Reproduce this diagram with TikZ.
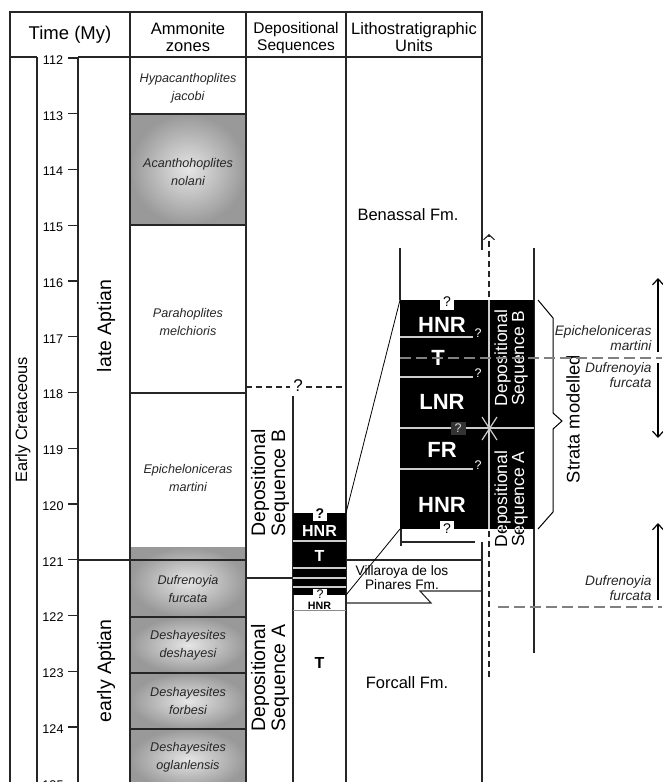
\documentclass[tikz,border=0pt]{standalone}
\usepackage{fontspec}
\setmainfont{Liberation Sans}
\usetikzlibrary{arrows.meta}

\begin{document}
\begin{tikzpicture}[x=1pt,y=-1pt]
	\tikzset{
		frame/.style={line width=1.1pt, draw=black!85},
		zonetxt/.style={font=\fontsize{12.6}{18}\selectfont\itshape, text=black!85, align=center},
		headtxt/.style={font=\fontsize{16.5}{17}\selectfont, align=center},
		unittxt/.style={font=\fontsize{16.5}{17}\selectfont, align=center},
		periodtxt/.style={font=\fontsize{19.5}{20}\selectfont, align=center, rotate=90},
		seqtxt/.style={font=\fontsize{17.5}{17}\selectfont, align=center, rotate=90},
		bigcode/.style={font=\fontsize{22}{22}\selectfont\bfseries, text=white},
		smallcode/.style={font=\fontsize{16}{16}\selectfont\bfseries, text=white},
		sep/.style={draw=black!20, line width=1.2pt},
		qmark/.style={font=\fontsize{12.5}{12}\selectfont, inner sep=0pt},
		biozone/.style={draw=black!50, line width=1.4pt, dash pattern=on 11pt off 5pt},
		grayzone/.style={inner color=black!10, outer color=black!40},
		barb/.style={line width=1.2pt, -{Straight Barb[length=6pt,width=11pt]}},
	}
	\useasboundingbox (0,0) rectangle (662,782);

	% Shaded ammonite zones
	\shade[grayzone] (130,114) rectangle (246,225);
	\shade[grayzone] (130,547) rectangle (246,617);
	\shade[grayzone] (130,617) rectangle (246,673);
	\shade[grayzone] (130,673) rectangle (246,729);
	\shade[grayzone] (130,729) rectangle (246,790);

	% Frame and column borders
	\draw[frame] (10,790) -- (10,12) -- (482,12) -- (482,250);
	\draw[frame] (482,542) -- (482,790);
	\draw[frame] (10,57) -- (37,57);
	\draw[frame] (78,57) -- (482,57);
	\draw[frame] (37,57) -- (37,790);
	\draw[frame] (78,57) -- (78,790);
	\draw[frame] (130,12) -- (130,790);
	\draw[frame] (246,12) -- (246,790);
	\draw[frame] (346,12) -- (346,790);

	% Time axis
	\foreach \t in {112,...,125} {
		\pgfmathsetmacro\yy{58+55.75*(\t-112)}
		\draw[frame] (68,\yy) -- (78,\yy);
		\node[font=\fontsize{12.6}{12}\selectfont] (tick\t) at (53,\yy+2) {\t};
	}
	\draw[frame] (78,560) -- (246,560);

	% Zone boundaries
	\draw[frame] (130,114) -- (246,114);
	\draw[frame] (130,225) -- (246,225);
	\draw[frame] (130,393) -- (246,393);
	\draw[frame] (130,617) -- (246,617);
	\draw[frame] (130,673) -- (246,673);
	\draw[frame] (130,729) -- (246,729);

	% Headers
	\node[headtxt, font=\fontsize{18.5}{18}\selectfont] (htime) at (70,35) {Time (My)};
	\node[headtxt] (hamm) at (188,37.5) {Ammonite\\zones};
	\node[headtxt, font=\fontsize{15.5}{17}\selectfont] (hseq) at (296,37.5) {Depositional\\Sequences};
	\node[headtxt] (hlith) at (414,37.5) {Lithostratigraphic\\Units};

	% Periods
	\node[font=\fontsize{16.4}{16}\selectfont, rotate=90] (early) at (23,420) {Early Cretaceous};
	\node[periodtxt] (late) at (106,326) {late Aptian};
	\node[periodtxt] (earlyapt) at (106,671) {early Aptian};

	% Ammonite zones
	\node[zonetxt] (zjac) at (188,88) {Hypacanthoplites\\jacobi};
	\node[zonetxt] (znol) at (188,172) {Acanthohoplites\\nolani};
	\node[zonetxt] (zmel) at (188,322) {Parahoplites\\melchioris};
	\node[zonetxt] (zmar) at (188,478) {Epicheloniceras\\martini};
	\node[zonetxt] (zfur) at (188,589) {Dufrenoyia\\furcata};
	\node[zonetxt] (zdes) at (188,645) {Deshayesites\\deshayesi};
	\node[zonetxt] (zfor) at (188,701) {Deshayesites\\forbesi};
	\node[zonetxt] (zogl) at (188,757) {Deshayesites\\oglanlensis};

	% Depositional sequences
	\draw[frame, dash pattern=on 6pt off 4pt] (246,387) -- (290,387);
	\draw[frame, dash pattern=on 6pt off 4pt] (306,387) -- (346,387);
	\node[font=\fontsize{17}{17}\selectfont, inner sep=0pt] (qseq) at (298,386) {?};
	\draw[frame] (293,396) -- (293,790);
	\draw[frame] (246,578) -- (293,578);
	\node[periodtxt] (seqB) at (270,483) {Depositional\\Sequence B};
	\node[periodtxt] (seqA) at (270,678) {Depositional\\Sequence A};

	% Small log
	\fill (293,513) rectangle (346,595);
	\draw[sep] (293,541) -- (346,541);
	\draw[sep] (293,568) -- (346,568);
	\draw[sep] (293,578) -- (346,578);
	\draw[sep] (293,587) -- (346,587);
	\draw[draw=black!45, line width=1pt] (293,610) -- (346,610);
	\fill[white] (313,513) rectangle (327,521);
	\fill[white] (313,589) rectangle (327,595);
	\node[qmark, font=\fontsize{14}{14}\selectfont\bfseries] (qs1) at (320,514) {?};
	\node[qmark] (qs2) at (320,594) {?};
	\node[smallcode] (shnr) at (319.5,531) {HNR};
	\node[smallcode] (st) at (319.5,556) {T};
	\node[font=\fontsize{10.7}{10}\selectfont\bfseries] (shnr2) at (319.5,606) {HNR};
	\node[font=\fontsize{16}{16}\selectfont\bfseries] (st2) at (319.5,663) {T};

	% Lithostratigraphic units
	\node[unittxt] (benassal) at (408,215) {Benassal Fm.};
	\node[unittxt] (forcall) at (407,683) {Forcall Fm.};
	\draw[frame] (346,560) -- (482,560);
	\draw[frame] (482,591) -- (420,591) -- (431,603) -- (346,603);
	\node[font=\fontsize{13.7}{13.5}\selectfont, align=center] (villa) at (402,577.5) {Villaroya de los\\Pinares Fm.};

	% Expanded log
	\draw[frame] (400,248) -- (400,300);
	\draw[frame] (534,248) -- (534,653);
	\draw[frame] (401,529) -- (401,546);
	\draw[frame] (401,542) -- (475,542);
	\draw[frame, dash pattern=on 6pt off 4pt, -{Straight Barb[length=5pt,width=11pt]}] (489,677) -- (489,234);
	\fill (400,300) rectangle (534,529);
	\draw[line width=0.8pt] (346,513) -- (400,300);
	\draw[line width=0.8pt] (346,595) -- (400,529);
	\draw[sep] (400,337) -- (473,337);
	\draw[sep] (400,377) -- (473,377);
	\draw[sep] (400,428) -- (534,428);
	\draw[sep] (400,469) -- (473,469);
	\draw[sep] (489,300) -- (489,529);
	\draw[sep] (482,417) -- (497,440);
	\draw[sep] (497,417) -- (482,440);
	\node[qmark, text=white] (q1) at (478,333) {?};
	\node[qmark, text=white] (q2) at (478,373) {?};
	\node[qmark, text=white] (q3) at (478,465) {?};
	\node[qmark, fill=black!80, text=black!15, minimum width=15pt, minimum height=13pt] (q4) at (458,428) {?};
	\fill[white] (440,300) rectangle (454,310);
	\fill[white] (440,521) rectangle (454,529);
	\node[qmark, font=\fontsize{14}{14}\selectfont] (q5) at (447,302) {?};
	\node[qmark, font=\fontsize{14}{14}\selectfont] (q6) at (447,529) {?};
	\node[bigcode] (ehnr1) at (442,325) {HNR};
	\node[bigcode] (et) at (438,358) {T};
	\node[bigcode] (elnr) at (442,402) {LNR};
	\node[bigcode] (efr) at (442,450) {FR};
	\node[bigcode] (ehnr2) at (442,505) {HNR};
	\node[seqtxt, text=white] (eseqB) at (511,358) {Depositional\\Sequence B};
	\node[seqtxt] (eseqA) at (511,499) {Depositional\\Sequence A};
	\begin{scope}
		\clip (400,300) rectangle (534,529);
		\node[seqtxt, text=white] at (511,499) {Depositional\\Sequence A};
	\end{scope}

	% Strata modelled brace
	\draw[line width=1pt] (538,300) -- (553,318) -- (553,413) -- (562,421) -- (553,429) -- (553,512) -- (538,529);
	\node[font=\fontsize{18.3}{18}\selectfont, rotate=90] (strata) at (573,419) {Strata modelled};

	% Biozone limits
	\draw[biozone] (400,358) -- (662,358);
	\draw[biozone] (498,607) -- (662,607);
	\draw[barb] (658,352) -- (658,278);
	\draw[barb] (658,363) -- (658,438);
	\draw[barb] (658,600) -- (658,523);
	\node[zonetxt, font=\fontsize{13.7}{15}\selectfont\itshape, align=right, anchor=east] (rmar) at (655,338) {Epicheloniceras\\martini};
	\node[zonetxt, font=\fontsize{13.7}{15}\selectfont\itshape, align=right, anchor=east] (rfur1) at (655,375) {Dufrenoyia\\furcata};
	\node[zonetxt, font=\fontsize{13.7}{15}\selectfont\itshape, align=right, anchor=east] (rfur2) at (655,588) {Dufrenoyia\\furcata};
\end{tikzpicture}
\end{document}
